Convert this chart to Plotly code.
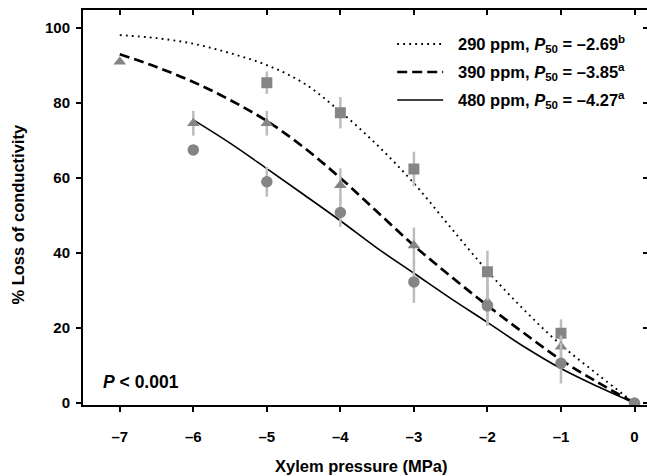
import plotly.graph_objects as go

# ---- data ----
x_sq = [-5, -4, -3, -2, -1]
y_sq = [85.4, 77.4, 62.4, 35.0, 18.6]
e_sq = [3.0, 4.2, 4.6, 5.6, 3.7]

x_tri = [-7, -6, -5, -4, -3, -2, -1]
y_tri = [91.0, 74.6, 74.6, 58.1, 42.0, 27.0, 15.0]
e_tri = [0, 3.3, 3.3, 4.5, 4.8, 6.5, 3.0]

x_cir = [-6, -5, -4, -3, -2, -1, 0]
y_cir = [67.5, 59.0, 50.8, 32.3, 25.9, 10.6, 0]
e_cir = [0, 4.0, 3.8, 5.6, 5.0, 5.4, 0]

x_fit = [-7, -6.5, -6, -5.5, -5, -4.5, -4, -3.5, -3, -2.5, -2, -1.5, -1, -0.5, 0]
fit_290 = [98.1, 97.3, 95.8, 93.3, 90.1, 85.3, 77.7, 68.8, 58.6, 46.8, 35.2, 24.8, 15.5, 7.6, 0]
fit_390 = [93.0, 89.6, 85.6, 80.8, 75.2, 68.2, 60.0, 51.0, 42.0, 33.8, 26.0, 18.6, 11.5, 5.5, 0]
x_fit480 = [-6, -5.5, -5, -4.5, -4, -3.5, -3, -2.5, -2, -1.5, -1, -0.5, 0]
fit_480 = [75.5, 69.3, 62.5, 55.6, 48.6, 41.3, 34.6, 27.9, 21.5, 15.0, 9.2, 4.4, 0]

legend_labels = [
    "290 ppm, <i>P</i><sub>50</sub> = \u20132.69<sup>b</sup>",
    "390 ppm, <i>P</i><sub>50</sub> = \u20133.85<sup>a</sup>",
    "480 ppm, <i>P</i><sub>50</sub> = \u20134.27<sup>a</sup>",
]
legend_dash = ["1.8px,4.2px", "10px,5px", "solid"]
legend_width = [1.9, 2.7, 1.6]

x_ticks = [-7, -6, -5, -4, -3, -2, -1, 0]
x_ticktext = ["\u20137", "\u20136", "\u20135", "\u20134", "\u20133", "\u20132", "\u20131", "0"]
y_ticks = [0, 20, 40, 60, 80, 100]

FONT = "Liberation Sans, Arial, sans-serif"
MARKER = "#858585"
ERR = "#bdbdbd"

fig = go.Figure()

fig.add_trace(go.Scatter(x=x_fit, y=fit_290, mode="lines",
                         line=dict(color="black", width=legend_width[0], dash=legend_dash[0], shape="spline"),
                         showlegend=False, hoverinfo="skip"))
fig.add_trace(go.Scatter(x=x_fit, y=fit_390, mode="lines",
                         line=dict(color="black", width=legend_width[1], dash=legend_dash[1], shape="spline"),
                         showlegend=False, hoverinfo="skip"))
fig.add_trace(go.Scatter(x=x_fit480, y=fit_480, mode="lines",
                         line=dict(color="black", width=legend_width[2], shape="spline"),
                         showlegend=False, hoverinfo="skip"))

def pts(x, y, e, symbol, size):
    return go.Scatter(x=x, y=y, mode="markers",
                      marker=dict(symbol=symbol, size=size, color=MARKER, line=dict(width=0)),
                      error_y=dict(type="data", array=e, visible=True, color=ERR, thickness=2.5, width=0),
                      showlegend=False, hoverinfo="skip")

fig.add_trace(pts(x_sq, y_sq, e_sq, "square", 11))
fig.add_trace(pts(x_tri, y_tri, e_tri, "triangle-up", 11))
fig.add_trace(pts(x_cir, y_cir, e_cir, "circle", 11.5))

fig.add_trace(go.Scatter(x=[None], y=[None], xaxis="x2", yaxis="y2", showlegend=False, hoverinfo="skip"))

xr = [-7.5, 0.17]
yr = [-0.53, 104.8]
L, T, B = 82.5, 10, 71
W, H = 647, 476
PW, PH = W - L, H - T - B

def px_x(p):
    return (p - L) / PW

def px_y(p):
    return (H - B - p) / PH

fig.update_layout(
    width=W, height=H,
    margin=dict(l=L, r=0, t=T, b=B, autoexpand=False),
    paper_bgcolor="white", plot_bgcolor="white",
    font=dict(family=FONT, size=15, color="black", weight="bold"),
    xaxis=dict(range=xr, tickvals=x_ticks, ticktext=x_ticktext, ticks="outside", ticklen=5,
               tickwidth=1.5, tickcolor="black", showline=True, linecolor="black", linewidth=2,
               showgrid=False, zeroline=False, ticklabelstandoff=12, automargin=False,
               tickfont=dict(family=FONT, size=15, weight="bold")),
    yaxis=dict(range=yr, tickvals=y_ticks, ticks="outside", ticklen=5, tickwidth=1.5,
               tickcolor="black", showline=True, linecolor="black", linewidth=2,
               showgrid=False, zeroline=False, ticklabelstandoff=3, automargin=False,
               tickfont=dict(family=FONT, size=15, weight="bold")),
    xaxis2=dict(range=xr, overlaying="x", side="top", tickvals=x_ticks, ticks="inside", ticklen=5,
                tickwidth=1.5, tickcolor="black", showline=True, linecolor="black", linewidth=2,
                showticklabels=False, showgrid=False, zeroline=False, automargin=False),
    yaxis2=dict(range=yr, overlaying="y", side="right", tickvals=y_ticks, ticks="inside", ticklen=4,
                tickwidth=1.5, tickcolor="black", showline=True, linecolor="black", linewidth=2,
                showticklabels=False, showgrid=False, zeroline=False, automargin=False),
)

# axis titles
fig.add_annotation(xref="paper", yref="paper", x=px_x(361), y=px_y(466), text="Xylem pressure (MPa)",
                   showarrow=False, xanchor="center", yanchor="middle",
                   font=dict(family=FONT, size=16.5, color="black", weight="bold"))
fig.add_annotation(xref="paper", yref="paper", x=px_x(17), y=px_y(214), text="% Loss of conductivity",
                   showarrow=False, xanchor="center", yanchor="middle", textangle=-90,
                   font=dict(family=FONT, size=16.5, color="black", weight="bold"))

# legend (manual)
leg_y = [44, 72, 100]
for lbl, dsh, w, yy in zip(legend_labels, legend_dash, legend_width, leg_y):
    fig.add_shape(type="line", xref="paper", yref="paper", x0=px_x(397), x1=px_x(443),
                  y0=px_y(yy), y1=px_y(yy), line=dict(color="black", width=w, dash=dsh))
    fig.add_annotation(xref="paper", yref="paper", x=px_x(456), y=px_y(yy), text=lbl, showarrow=False,
                       xanchor="left", yanchor="middle",
                       font=dict(family=FONT, size=16.5, color="black", weight="bold"))

fig.add_annotation(xref="paper", yref="paper", x=px_x(101), y=px_y(382), text="<i>P</i> < 0.001",
                   showarrow=False, xanchor="left", yanchor="middle",
                   font=dict(family=FONT, size=17.5, color="black", weight="bold"))

fig.write_html("out.html", config={"displayModeBar": False},
               post_script="document.body.style.margin='0';document.body.style.overflow='hidden';")
